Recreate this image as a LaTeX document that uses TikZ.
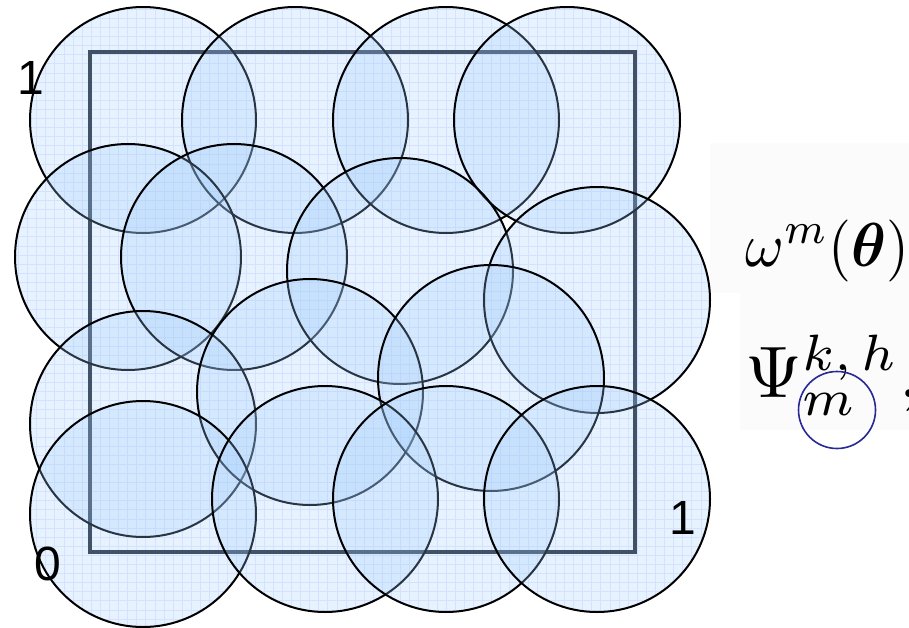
\documentclass[tikz,border=0pt]{standalone}
\usepackage{amsmath,amssymb}
\usepackage[no-math]{fontspec}
\newfontfamily\arialfont{Liberation Sans}
\usepackage{tikz}
\usetikzlibrary{positioning}
\usepackage{xcolor}
\definecolor{diskblue}{RGB}{160,205,252}
\definecolor{framegray}{RGB}{32,40,50}
\definecolor{ringblue}{RGB}{40,40,150}

\begin{document}
\begin{tikzpicture}[x=1pt,y=-1pt,
    disk/.style={draw=black,line width=2pt,fill=diskblue,fill opacity=0.26},
    frame/.style={draw=framegray,line width=3.2pt},
    num/.style={font=\arialfont\fontsize{48}{48}\selectfont,inner sep=0pt,anchor=base},
    formula/.style={inner sep=0pt,anchor=base west},
    ring/.style={circle,draw=ringblue,line width=1.6pt,minimum size=77pt,inner sep=0pt}]

\useasboundingbox (0,0) rectangle (909,628);

% backdrops of the pasted formulas
\fill[black!1.5] (710,143) rectangle (909,293);
\fill[black!1.5] (740,293) rectangle (909,430);

% grid texture inside the disks
\begin{scope}
\clip \foreach \p in {(143,120),(295,120),(446,120),(567,120),
                     (128,257),(234,257),(400,271),(597,300),
                     (143,424),(310,392),(491,378),
                     (143,514),(325,499),(446,499),(597,499)} {\p circle (113pt)};
\draw[blue!9,line width=0.4pt,step=9.1pt] (0,0) grid (909,628);
\end{scope}

% unit square
\draw[frame] (90,52) rectangle (635,552);

% covering disks
\foreach \p in {(143,120),(295,120),(446,120),(567,120),
                (128,257),(234,257),(400,271),(597,300),
                (143,424),(310,392),(491,378),
                (143,514),(325,499),(446,499),(597,499)}
  \draw[disk] \p circle (113pt);

% corner labels
\node[num] (topone) at (31,95) {1};
\node[num] (origin) at (48,580) {0};
\node[num] (rightone) at (683,534) {1};

% formulas
\node[formula,xscale=5.9,yscale=6.2] (weight) at (744,266) {$\omega^{m}(\boldsymbol{\theta})$};
\node[formula,scale=7.3] (basis) at (744,397) {$\Psi^{k,\,h}_{m},$};
\node[ring] (mring) at (837,410) {};

\end{tikzpicture}
\end{document}
